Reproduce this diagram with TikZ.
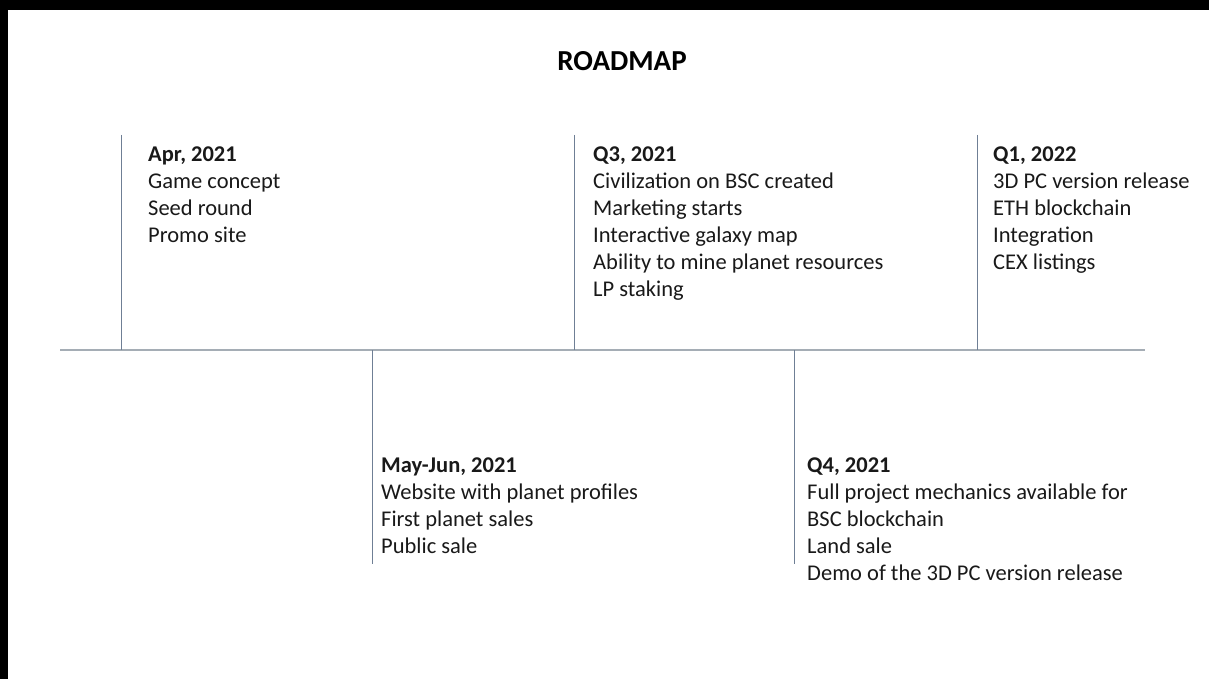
\documentclass[tikz,border=0pt]{standalone}
\usepackage{fontspec}
\setmainfont{Carlito}
\definecolor{tickc}{HTML}{6F7F95}
\definecolor{axisc}{HTML}{A5ADB5}
\begin{document}
\begin{tikzpicture}[x=1pt,y=-1pt,
  evt/.style={anchor=north west,inner sep=0pt,align=left,font=\fontsize{22.5}{27}\selectfont,text=black!90},
  tick/.style={draw=tickc,line width=1.1pt},
  axis/.style={draw=axisc,line width=1.6pt}]
\useasboundingbox (0,0) rectangle (1209,679);
\fill[white] (0,0) rectangle (1209,679);
\fill[black] (0,0) rectangle (1209,10);
\fill[black] (0,0) rectangle (8,679);
\node[inner sep=0pt,font=\bfseries\fontsize{29}{34}\selectfont] (title) at (622,61) {ROADMAP};
% axis
\coordinate (axL) at (60,350);
\coordinate (axR) at (1145,350);
\draw[axis] (axL) -- (axR);
% ticks
\coordinate (t1a) at (121.5,135); \coordinate (t1b) at (121.5,350);
\coordinate (t2a) at (372.5,350); \coordinate (t2b) at (372.5,564);
\coordinate (t3a) at (574.5,135); \coordinate (t3b) at (574.5,350);
\coordinate (t4a) at (794.5,350); \coordinate (t4b) at (794.5,564);
\coordinate (t5a) at (977.5,135); \coordinate (t5b) at (977.5,350);
\foreach \a/\b in {t1a/t1b,t2a/t2b,t3a/t3b,t4a/t4b,t5a/t5b} \draw[tick] (\a) -- (\b);
% events
\node[evt] (e1) at (148,147) {\textbf{Apr, 2021}\\Game concept\\Seed round\\Promo site};
\node[evt] (e2) at (381,458) {\textbf{May-Jun, 2021}\\Website with planet profiles\\First planet sales\\Public sale};
\node[evt] (e3) at (593,147) {\textbf{Q3, 2021}\\Civilization on BSC created\\Marketing starts\\Interactive galaxy map\\Ability to mine planet resources\\LP staking};
\node[evt] (e4) at (807,458) {\textbf{Q4, 2021}\\Full project mechanics available for\\BSC blockchain\\Land sale\\Demo of the 3D PC version release};
\node[evt] (e5) at (993,147) {\textbf{Q1, 2022}\\3D PC version release\\ETH blockchain\\Integration\\CEX listings};
\end{tikzpicture}
\end{document}
